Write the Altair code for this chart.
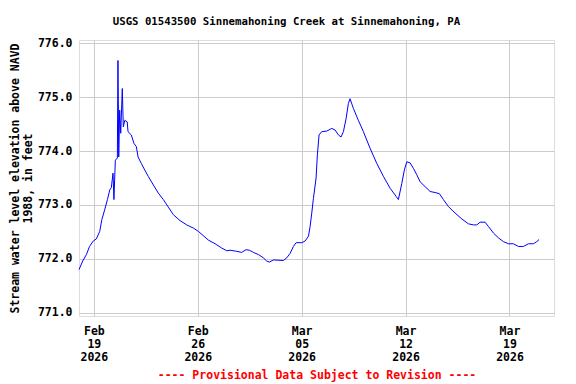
import altair as alt
import pandas as pd

times = [
    "2026-02-18T00:00", "2026-02-18T06:00", "2026-02-18T12:00", "2026-02-18T17:00", "2026-02-18T23:00",
    "2026-02-19T04:00", "2026-02-19T09:30", "2026-02-19T13:00", "2026-02-19T17:30", "2026-02-19T22:00",
    "2026-02-20T01:45", "2026-02-20T04:15", "2026-02-20T07:00", "2026-02-20T08:30", "2026-02-20T10:45",
    "2026-02-20T14:00", "2026-02-20T15:00", "2026-02-20T16:15", "2026-02-20T17:45", "2026-02-20T19:30",
    "2026-02-20T22:00", "2026-02-20T23:40", "2026-02-21T02:00", "2026-02-21T06:00", "2026-02-21T07:15",
    "2026-02-21T12:30", "2026-02-21T17:00", "2026-02-21T20:45", "2026-02-21T23:30", "2026-02-22T04:45",
    "2026-02-22T10:15", "2026-02-22T16:00", "2026-02-23T00:15", "2026-02-23T08:15", "2026-02-23T16:20",
    "2026-02-24T00:25", "2026-02-24T08:30", "2026-02-24T19:20", "2026-02-25T06:10", "2026-02-25T17:00",
    "2026-02-26T01:00", "2026-02-26T09:00", "2026-02-26T17:00", "2026-02-27T04:00", "2026-02-27T14:50",
    "2026-02-27T23:00", "2026-02-28T04:15", "2026-02-28T15:00", "2026-02-28T23:00", "2026-03-01T06:00",
    "2026-03-01T11:30", "2026-03-01T18:00", "2026-03-02T02:00", "2026-03-02T10:00", "2026-03-02T15:30",
    "2026-03-02T19:45", "2026-03-03T02:15", "2026-03-03T18:30", "2026-03-04T00:00", "2026-03-04T05:15",
    "2026-03-04T10:40", "2026-03-04T15:00", "2026-03-05T00:10", "2026-03-05T05:30", "2026-03-05T11:00",
    "2026-03-05T13:40", "2026-03-05T16:20", "2026-03-05T19:00", "2026-03-05T23:20", "2026-03-06T01:25",
    "2026-03-06T04:10", "2026-03-06T08:30", "2026-03-06T16:35", "2026-03-07T00:40", "2026-03-07T06:00",
    "2026-03-07T11:25", "2026-03-07T15:40", "2026-03-07T19:30", "2026-03-07T23:50", "2026-03-08T03:30",
    "2026-03-08T06:15", "2026-03-08T11:40", "2026-03-08T19:40", "2026-03-09T03:50", "2026-03-09T14:40",
    "2026-03-10T01:30", "2026-03-10T12:10", "2026-03-10T23:00", "2026-03-11T08:40", "2026-03-11T12:25",
    "2026-03-11T17:55", "2026-03-11T22:05", "2026-03-12T02:00", "2026-03-12T07:20", "2026-03-12T12:40",
    "2026-03-12T18:10", "2026-03-12T23:30", "2026-03-13T07:35", "2026-03-13T15:40", "2026-03-13T23:45",
    "2026-03-14T06:40", "2026-03-14T13:10", "2026-03-14T21:15", "2026-03-15T08:05", "2026-03-15T19:00",
    "2026-03-16T05:40", "2026-03-16T13:40", "2026-03-16T19:10", "2026-03-17T00:30", "2026-03-17T08:35",
    "2026-03-17T14:00", "2026-03-17T22:00", "2026-03-18T06:05", "2026-03-18T14:10", "2026-03-18T22:20",
    "2026-03-19T06:25", "2026-03-19T14:30", "2026-03-19T22:35", "2026-03-20T06:40", "2026-03-20T14:45",
    "2026-03-20T20:15", "2026-03-21T00:00",
]

elevation = [
    771.80, 771.96, 772.08, 772.23, 772.33,
    772.37, 772.51, 772.73, 772.91, 773.10,
    773.28, 773.32, 773.59, 773.10, 773.83,
    773.87, 775.68, 773.89, 774.76, 774.33,
    775.16, 774.45, 774.57, 774.54, 774.36,
    774.30, 774.14, 774.08, 773.89, 773.77,
    773.65, 773.53, 773.37, 773.22, 773.10,
    772.96, 772.82, 772.71, 772.63, 772.57,
    772.51, 772.43, 772.35, 772.28, 772.20,
    772.15, 772.16, 772.14, 772.12, 772.17,
    772.16, 772.12, 772.08, 772.02, 771.96,
    771.94, 771.98, 771.97, 772.02, 772.10,
    772.23, 772.30, 772.30, 772.33, 772.42,
    772.60, 772.85, 773.12, 773.50, 773.93,
    774.30, 774.36, 774.37, 774.42, 774.39,
    774.30, 774.26, 774.36, 774.60, 774.88,
    774.97, 774.79, 774.57, 774.36, 774.05,
    773.77, 773.53, 773.31, 773.16, 773.10,
    773.40, 773.65, 773.80, 773.78, 773.68,
    773.56, 773.43, 773.34, 773.25, 773.23,
    773.21, 773.10, 772.97, 772.85, 772.74,
    772.65, 772.63, 772.63, 772.68, 772.68,
    772.60, 772.48, 772.39, 772.32, 772.28,
    772.28, 772.23, 772.23, 772.28, 772.28,
    772.32, 772.36,
]

y_ticks = [771.0, 772.0, 773.0, 774.0, 775.0, 776.0]
x_tick_days = [(2, 19), (2, 26), (3, 5), (3, 12), (3, 19)]

df = pd.DataFrame({"time": [t + "Z" for t in times], "elev": elevation})

FONT = "DejaVu Sans Mono"

x_values = [alt.DateTime(year=2026, month=m, date=d, utc=True) for m, d in x_tick_days]

chart = alt.Chart(df).mark_line(color="#0000ff", strokeWidth=1).encode(
    x=alt.X(
        "time:T",
        scale=alt.Scale(
            type="utc",
            domain=[alt.DateTime(year=2026, month=2, date=18, utc=True),
                    alt.DateTime(year=2026, month=3, date=22, utc=True)],
        ),
        axis=alt.Axis(
            values=x_values,
            labelExpr="[utcFormat(datum.value, '%b'), utcFormat(datum.value, '%d'), utcFormat(datum.value, '%Y')]",
            labelLineHeight=13,
            labelPadding=9,
            labelFontSize=11.5,
            labelFont=FONT,
            labelFontWeight="bold",
            labelColor="black",
            ticks=False,
            domain=False,
            gridColor="#cccccc",
            title="---- Provisional Data Subject to Revision ----",
            titleColor="red",
            titleFont=FONT,
            titleFontSize=11.5,
            titleFontWeight="bold",
            titlePadding=7,
        ),
    ),
    y=alt.Y(
        "elev:Q",
        scale=alt.Scale(domain=[770.94, 776.06], nice=False, zero=False),
        axis=alt.Axis(
            values=y_ticks,
            format=".1f",
            labelFont=FONT,
            labelFontSize=11.5,
            labelFontWeight="bold",
            labelColor="black",
            labelPadding=7,
            ticks=False,
            domain=False,
            gridColor="#cccccc",
            title=["Stream water level elevation above NAVD", "1988, in feet"],
            titleFont=FONT,
            titleFontSize=11.5,
            titleFontWeight="bold",
            titleColor="black",
            titleLineHeight=13,
            titlePadding=4,
        ),
    ),
).properties(
    width=475,
    height=276,
    title=alt.TitleParams(
        "USGS 01543500 Sinnemahoning Creek at Sinnemahoning, PA",
        font=FONT,
        fontSize=10.7,
        fontWeight="bold",
        color="black",
        anchor="middle",
        dx=-30,
        offset=10,
    ),
    autosize="none",
    padding={"left": 71, "top": 32, "right": 14, "bottom": 68},
).configure_view(
    stroke="black", strokeWidth=1.5
).configure(background="white")

chart.save("out.html", embed_options={"renderer": "svg", "actions": False})
